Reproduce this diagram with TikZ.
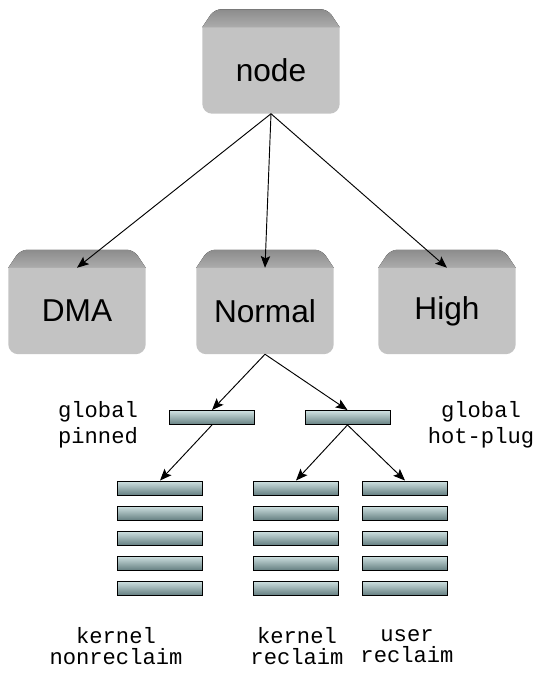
\documentclass[tikz,border=0pt]{standalone}
\usepackage{fontspec}
\setmainfont{Liberation Sans}
\newfontfamily\tagfont{Liberation Mono}
\usetikzlibrary{arrows.meta,backgrounds}

\definecolor{zonefacegray}{RGB}{195,195,195}
\definecolor{zonebanddark}{RGB}{140,140,140}
\definecolor{zonebandlight}{RGB}{172,172,172}
\definecolor{barlight}{RGB}{208,226,226}
\definecolor{bardark}{RGB}{102,128,130}

\tikzset{
  zone/.style={minimum width=4.11cm, minimum height=2.58cm, inner sep=0pt,
    font=\fontsize{27}{32}\selectfont},
  zoneface/.style={fill=zonefacegray},
  zoneband/.style={top color=zonebanddark, bottom color=zonebandlight},
  listbar/.style={draw=black, line width=0.8pt, top color=barlight, bottom color=bardark,
    minimum width=2.55cm, minimum height=0.42cm, inner sep=0pt},
  link/.style={-{Stealth[length=10pt,width=8pt,inset=2pt]}, line width=0.8pt},
  tag/.style={font=\tagfont\fontsize{18.9}{22}\selectfont, align=center},
  tagtight/.style={font=\tagfont\fontsize{18.9}{18.5}\selectfont, align=center}
}

\begin{document}
\begin{tikzpicture}[x=0.03cm, y=-0.03cm]
  % page frame (pixel units, y downwards)
  \useasboundingbox (0,0) rectangle (537,675);

  % zone boxes
  \node[zone] (node)   at (271,70.5) {node};
  \node[zone] (dma)    at (77,311)   {DMA};
  \node[zone] (normal) at (265,311)  {Normal};
  \node[zone] (high)   at (447,311)  {High};

  % beveled look of the zone boxes
  \begin{scope}[on background layer]
    \foreach \z in {node,dma,normal,high} {
      \fill[zoneband] (\z.north west) [rounded corners=6pt]
        -- ([xshift=0.36cm,yshift=0.54cm]\z.north west)
        -- ([xshift=-0.36cm,yshift=0.54cm]\z.north east) [sharp corners]
        -- (\z.north east) -- cycle;
      \fill[zoneface] (\z.north west) [rounded corners=0.3cm]
        -- (\z.south west) -- (\z.south east) [sharp corners]
        -- (\z.north east) -- cycle;
    }
  \end{scope}

  % global lists
  \node[listbar] (pin) at (212,417.5) {};
  \node[listbar] (hot) at (347.5,417.5) {};

  % per-type lists, five bars each
  \foreach \col/\cx in {kn/160, kr/296, ur/405} {
    \foreach \row in {1,...,5} {
      \pgfmathsetmacro{\cy}{488+25*(\row-1)}
      \node[listbar] (\col\row) at (\cx,\cy) {};
    }
  }

  % arrows
  \draw[link] (node.south) -- (dma.north);
  \draw[link] (node.south) -- (normal.north);
  \draw[link] (node.south) -- (high.north);
  \draw[link] (normal.south) -- (pin.north);
  \draw[link] (normal.south) -- (hot.north);
  \draw[link] (pin.south) -- (kn1.north);
  \draw[link] (hot.south) -- (kr1.north);
  \draw[link] (hot.south) -- (ur1.north);

  % labels
  \node[tag] (pinlabel) at (98,425)  {global\\pinned};
  \node[tag] (hotlabel) at (481,425) {global\\hot-plug};
  \node[tagtight] (knlabel) at (116,646) {kernel\\nonreclaim};
  \node[tagtight] (krlabel) at (297,646) {kernel\\reclaim};
  \node[tagtight] (urlabel) at (407,646) {user\\reclaim};
\end{tikzpicture}
\end{document}
